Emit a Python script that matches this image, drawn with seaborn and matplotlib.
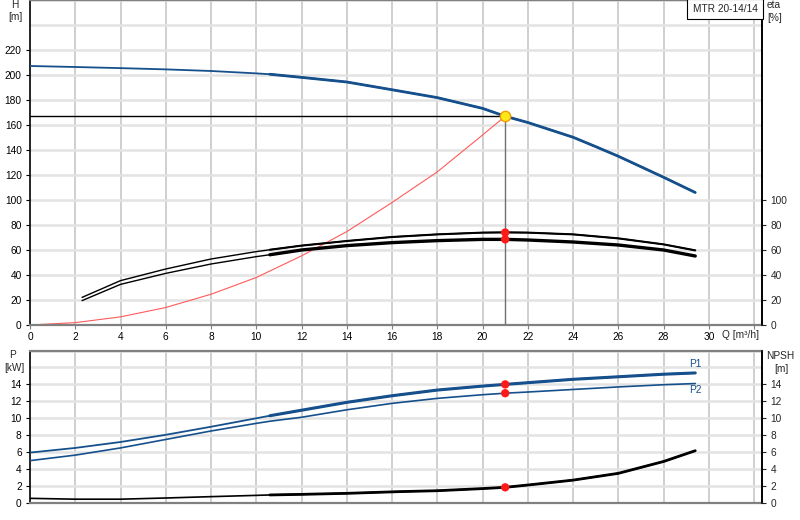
import numpy as np
import pandas as pd
import matplotlib
matplotlib.use("Agg")
import matplotlib.pyplot as plt
import seaborn as sns

# ---------------- data ----------------
Q_H = [0, 2, 4, 6, 8, 10, 10.6, 12, 14, 16, 18, 20, 21, 22, 24, 25, 26, 28, 29.4]
H_vals = [207.2, 206.4, 205.5, 204.5, 203.2, 201.3, 200.6, 198.1, 194.4, 188.2,
          181.9, 173.3, 167.0, 162.0, 150.2, 142.7, 135.0, 118.2, 106.0]

Q_sys = [0, 2, 4, 6, 8, 10, 12, 14, 16, 18, 20, 21]
H_sys = [0, 1.9, 6.5, 14.0, 24.6, 38.0, 55.3, 74.7, 98.0, 122.5, 152.0, 167.0]

Q_eta = [2.3, 4, 6, 8, 10, 10.6, 12, 14, 16, 18, 20, 21, 22, 24, 26, 28, 29.4]
eta_pump = [22.1, 35.5, 44.8, 52.8, 58.7, 60.2, 63.5, 67.2, 70.4, 72.5, 73.9, 74.1,
            73.9, 72.5, 69.3, 64.5, 59.7]
eta_total = [19.5, 32.5, 41.3, 48.8, 54.7, 56.2, 60.0, 63.5, 65.9, 67.5, 68.5, 68.5,
             68.0, 66.4, 64.0, 60.0, 55.2]

Q_P = [0, 2, 4, 6, 8, 10, 10.6, 12, 14, 16, 18, 20, 21, 22, 24, 26, 28, 29.4]
P1_vals = [5.95, 6.5, 7.2, 8.05, 9.0, 10.0, 10.3, 10.95, 11.88, 12.66, 13.33, 13.8,
           14.0, 14.2, 14.6, 14.9, 15.2, 15.35]
P2_vals = [5.0, 5.65, 6.5, 7.5, 8.5, 9.4, 9.65, 10.12, 11.0, 11.76, 12.35, 12.78,
           12.96, 13.1, 13.4, 13.7, 13.96, 14.1]

Q_N = [0, 2, 4, 6, 8, 10, 10.6, 12, 14, 16.3, 18, 20, 21, 22, 24, 26, 27, 28, 29.4]
NPSH_vals = [0.55, 0.45, 0.45, 0.59, 0.75, 0.9, 0.95, 1.02, 1.14, 1.34, 1.45, 1.7,
             1.85, 2.12, 2.7, 3.5, 4.2, 4.9, 6.17]

Q_op = 21.0
H_op = 167.0
eta_op = [74.0, 68.5]
P_op = [14.0, 12.96]
NPSH_op = 1.85

x_ticks = [0, 2, 4, 6, 8, 10, 12, 14, 16, 18, 20, 22, 24, 26, 28, 30, 32]
x_ticklabels = ["0", "2", "4", "6", "8", "10", "12", "14", "16", "18", "20", "22",
                "24", "26", "28", "30", ""]
H_ticks = [0, 20, 40, 60, 80, 100, 120, 140, 160, 180, 200, 220]
eta_ticks = [0, 20, 40, 60, 80, 100]
P_ticks = [0, 2, 4, 6, 8, 10, 12, 14]
title_text = "MTR 20-14/14"

# ---------------- style ----------------
sns.set_theme(style="white")
plt.rcParams["font.family"] = ["Liberation Sans", "DejaVu Sans"]
FS = 7.3
BLUE = "#16508c"
VGRID = "#cfcfcf"
HGRID = "#e3e3e3"
GRAYSP = "#808080"

W, Hh = 800, 520
fig = plt.figure(figsize=(8, 5.2), dpi=100)
ax1 = fig.add_axes([30 / W, (Hh - 325) / Hh, 732 / W, 325 / Hh])
ax2 = fig.add_axes([30 / W, (Hh - 503) / Hh, 732 / W, 152.5 / Hh])
XMAX = 32.35

def style_axes(ax, ymax, yticks, ystep):
    ax.set_xlim(0, XMAX)
    ax.set_ylim(0, ymax)
    for v in np.arange(2, XMAX, 2):
        ax.axvline(v, color=VGRID, lw=1.4, zorder=0)
    for v in np.arange(ystep, ymax + 0.01, ystep):
        ax.axhline(v, color=HGRID, lw=1.8, zorder=0)
    ax.set_yticks(yticks)
    ax.set_yticklabels([str(t) for t in yticks], fontsize=FS)
    ax.tick_params(axis="y", direction="out", length=3, width=0.8, pad=3,
                   left=True, colors="black")
    for s in ["left", "right"]:
        ax.spines[s].set_color("black")
        ax.spines[s].set_linewidth(1.2)
    for s in ["top", "bottom"]:
        ax.spines[s].set_color(GRAYSP)
        ax.spines[s].set_linewidth(1.6)
    ax.set_xlabel("")
    ax.set_ylabel("")

style_axes(ax1, 260, H_ticks, 20)
style_axes(ax2, 18, P_ticks, 2)

ax1.set_xticks(x_ticks)
ax1.set_xticklabels(x_ticklabels, fontsize=FS)
ax1.tick_params(axis="x", direction="out", length=3, width=0.8, pad=2,
                bottom=True, colors=GRAYSP, labelcolor="black")
ax2.set_xticks([])

# twin axes for right-hand scales
ax1r = ax1.twinx()
ax1r.set_ylim(0, 260)
ax1r.set_yticks(eta_ticks)
ax1r.set_yticklabels([str(t) for t in eta_ticks], fontsize=FS)
ax1r.tick_params(axis="y", direction="out", length=3, width=0.8, pad=3, right=True)
ax2r = ax2.twinx()
ax2r.set_ylim(0, 18)
ax2r.set_yticks(P_ticks)
ax2r.set_yticklabels([str(t) for t in P_ticks], fontsize=FS)
ax2r.tick_params(axis="y", direction="out", length=3, width=0.8, pad=3, right=True)
for a in (ax1r, ax2r):
    a.spines["right"].set_color("black")
    a.spines["right"].set_linewidth(1.2)
    a.spines["top"].set_visible(False)
    a.spines["bottom"].set_visible(False)
    a.spines["left"].set_visible(False)
    a.set_ylabel("")

def curve(ax, q, v, color, lw_thin, lw_thick, split=10.6, z=3):
    df = pd.DataFrame({"Q": q, "v": v})
    sns.lineplot(data=df, x="Q", y="v", ax=ax, color=color, lw=lw_thin,
                 sort=False, estimator=None, zorder=z)
    if lw_thick:
        d2 = df[df["Q"] >= split]
        sns.lineplot(data=d2, x="Q", y="v", ax=ax, color=color, lw=lw_thick,
                     sort=False, estimator=None, zorder=z)
    ax.set_xlabel("")
    ax.set_ylabel("")

# ---- top panel ----
curve(ax1, Q_sys, H_sys, "#ff5a5a", 0.8, None, z=2)
curve(ax1, Q_H, H_vals, BLUE, 1.3, 2.0)
curve(ax1, Q_eta, eta_pump, "black", 1.0, 1.5)
curve(ax1, Q_eta, eta_total, "black", 1.0, 2.4)
ax1.plot([0, Q_op], [H_op, H_op], color="black", lw=1.0, zorder=4)
ax1.plot([Q_op, Q_op], [0, H_op], color="#707070", lw=1.0, zorder=4)
sns.scatterplot(x=[Q_op, Q_op], y=eta_op, ax=ax1, color="#ff1a1a", s=36,
                edgecolor="none", zorder=6)
sns.scatterplot(x=[Q_op], y=[H_op], ax=ax1, color="#ffe81a", s=55,
                edgecolor="#f59a00", linewidth=1.0, zorder=7)
ax1.set_xlabel("")
ax1.set_ylabel("")

# ---- bottom panel ----
curve(ax2, Q_P, P1_vals, BLUE, 1.3, 2.2)
curve(ax2, Q_P, P2_vals, BLUE, 1.2, None)
curve(ax2, Q_N, NPSH_vals, "black", 1.2, 2.0)
sns.scatterplot(x=[Q_op, Q_op, Q_op], y=P_op + [NPSH_op], ax=ax2, color="#ff1a1a",
                s=36, edgecolor="none", zorder=6)
ax2.set_xlabel("")
ax2.set_ylabel("")
ax2.text(29.4, 16.4, "P1", color=BLUE, fontsize=FS, ha="center", va="center")
ax2.text(29.4, 13.3, "P2", color=BLUE, fontsize=FS, ha="center", va="center")

# ---- axis titles ----
def ftext(x, y, s, ha="center"):
    fig.text(x / W, 1 - y / Hh, s, fontsize=FS, ha=ha, va="center")

fig.text(725 / W, 1 - 9 / Hh, title_text, fontsize=FS, ha="center", va="center",
         zorder=10,
         bbox=dict(boxstyle="square,pad=0.5", fc="white", ec="black", lw=0.8))
ftext(15, 5, "H")
ftext(15, 17, "[m]")
ftext(767, 5, "eta", ha="left")
ftext(767, 18, "[%]", ha="left")
ftext(722, 335, "Q [m³/h]", ha="left")
ftext(13, 355, "P")
ftext(14, 368, "[kW]")
ftext(766, 356, "NPSH", ha="left")
ftext(781, 369, "[m]")

fig.savefig("out.png", dpi=100, facecolor="white")
